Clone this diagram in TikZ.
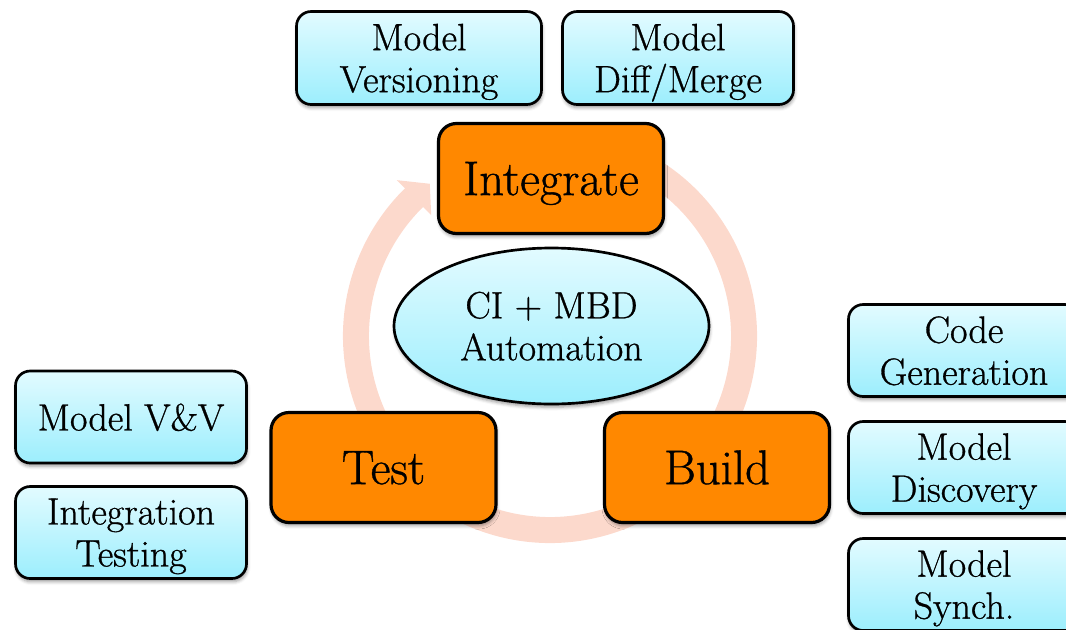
\documentclass[tikz,border=0pt]{standalone}
\usepackage{fontspec}
\setmainfont{Latin Modern Roman}[FakeBold=0.8]
\usetikzlibrary{shadows.blur,calc,shapes.geometric}
\definecolor{paleTop}{RGB}{226,251,255}
\definecolor{paleBot}{RGB}{156,238,253}
\definecolor{phaseOrange}{RGB}{255,136,0}
\definecolor{ringPink}{RGB}{252,217,204}
\begin{document}
\begin{tikzpicture}[x=0.75pt,y=0.75pt,
  softshadow/.style={blur shadow={shadow xshift=0.6pt,shadow yshift=-2.4pt,shadow blur radius=2.5pt,shadow opacity=40}},
  topic/.style={draw=black,line width=2pt,rounded corners=11pt,top color=paleTop,bottom color=paleBot,
    softshadow,align=center,font=\fontsize{28.5}{31.5}\selectfont,text depth=0pt,inner sep=0pt,
    minimum width=173.25pt,minimum height=69pt},
  phase/.style={draw=black,line width=2.4pt,rounded corners=13.5pt,fill=phaseOrange,softshadow,
    font=\fontsize{36.5}{40}\selectfont,text height=24.9pt,text depth=0pt,inner sep=0pt,
    minimum width=168.75pt,minimum height=82.5pt},
  hubnode/.style={ellipse,draw=black,line width=2pt,top color=paleTop,bottom color=paleBot,softshadow,
    align=center,font=\fontsize{28.5}{31.5}\selectfont,text depth=0pt,inner sep=0pt,
    minimum width=236.25pt,minimum height=117pt},
  cycle arrow/.style={ringPink,line width=19.5pt}
]
\useasboundingbox (0,0) rectangle (1066,-629);
\clip (0,0) rectangle (1066,-629);

% circular process arrow
\coordinate (hub) at (550,-336);
\draw[cycle arrow] ($(hub)+(70:194)$) arc[start angle=70,end angle=-226,radius=194];
\fill[ringPink] ($(hub)+(134.5:218.5)$) -- ($(hub)+(128.3:194)$) -- ($(hub)+(134.5:169.5)$) -- cycle;

% the three phases
\node[phase] (integrate) at (551,-178.5) {Integrate};
\node[phase] (test) at (383.5,-467.5) {Test};
\node[phase] (build) at (717,-467.5) {Build};

% centre
\node[hubnode] (core) at (551.5,-326) {CI + MBD\\Automation};

% activities around each phase
\node[topic,minimum width=183.75pt,minimum height=69.75pt] (versioning) at (419,-58) {Model\\Versioning};
\node[topic,minimum height=69.75pt] (diffmerge) at (678,-58) {Model\\Diff/Merge};
\node[topic] (vandv) at (131,-417) {Model V\&V};
\node[topic] (inttest) at (131,-532.5) {Integration\\Testing};
\node[topic] (codegen) at (964,-350.5) {Code\\Generation};
\node[topic] (discovery) at (964,-467.5) {Model\\Discovery};
\node[topic] (synch) at (964,-584.5) {Model\\Synch.};
\end{tikzpicture}
\end{document}
